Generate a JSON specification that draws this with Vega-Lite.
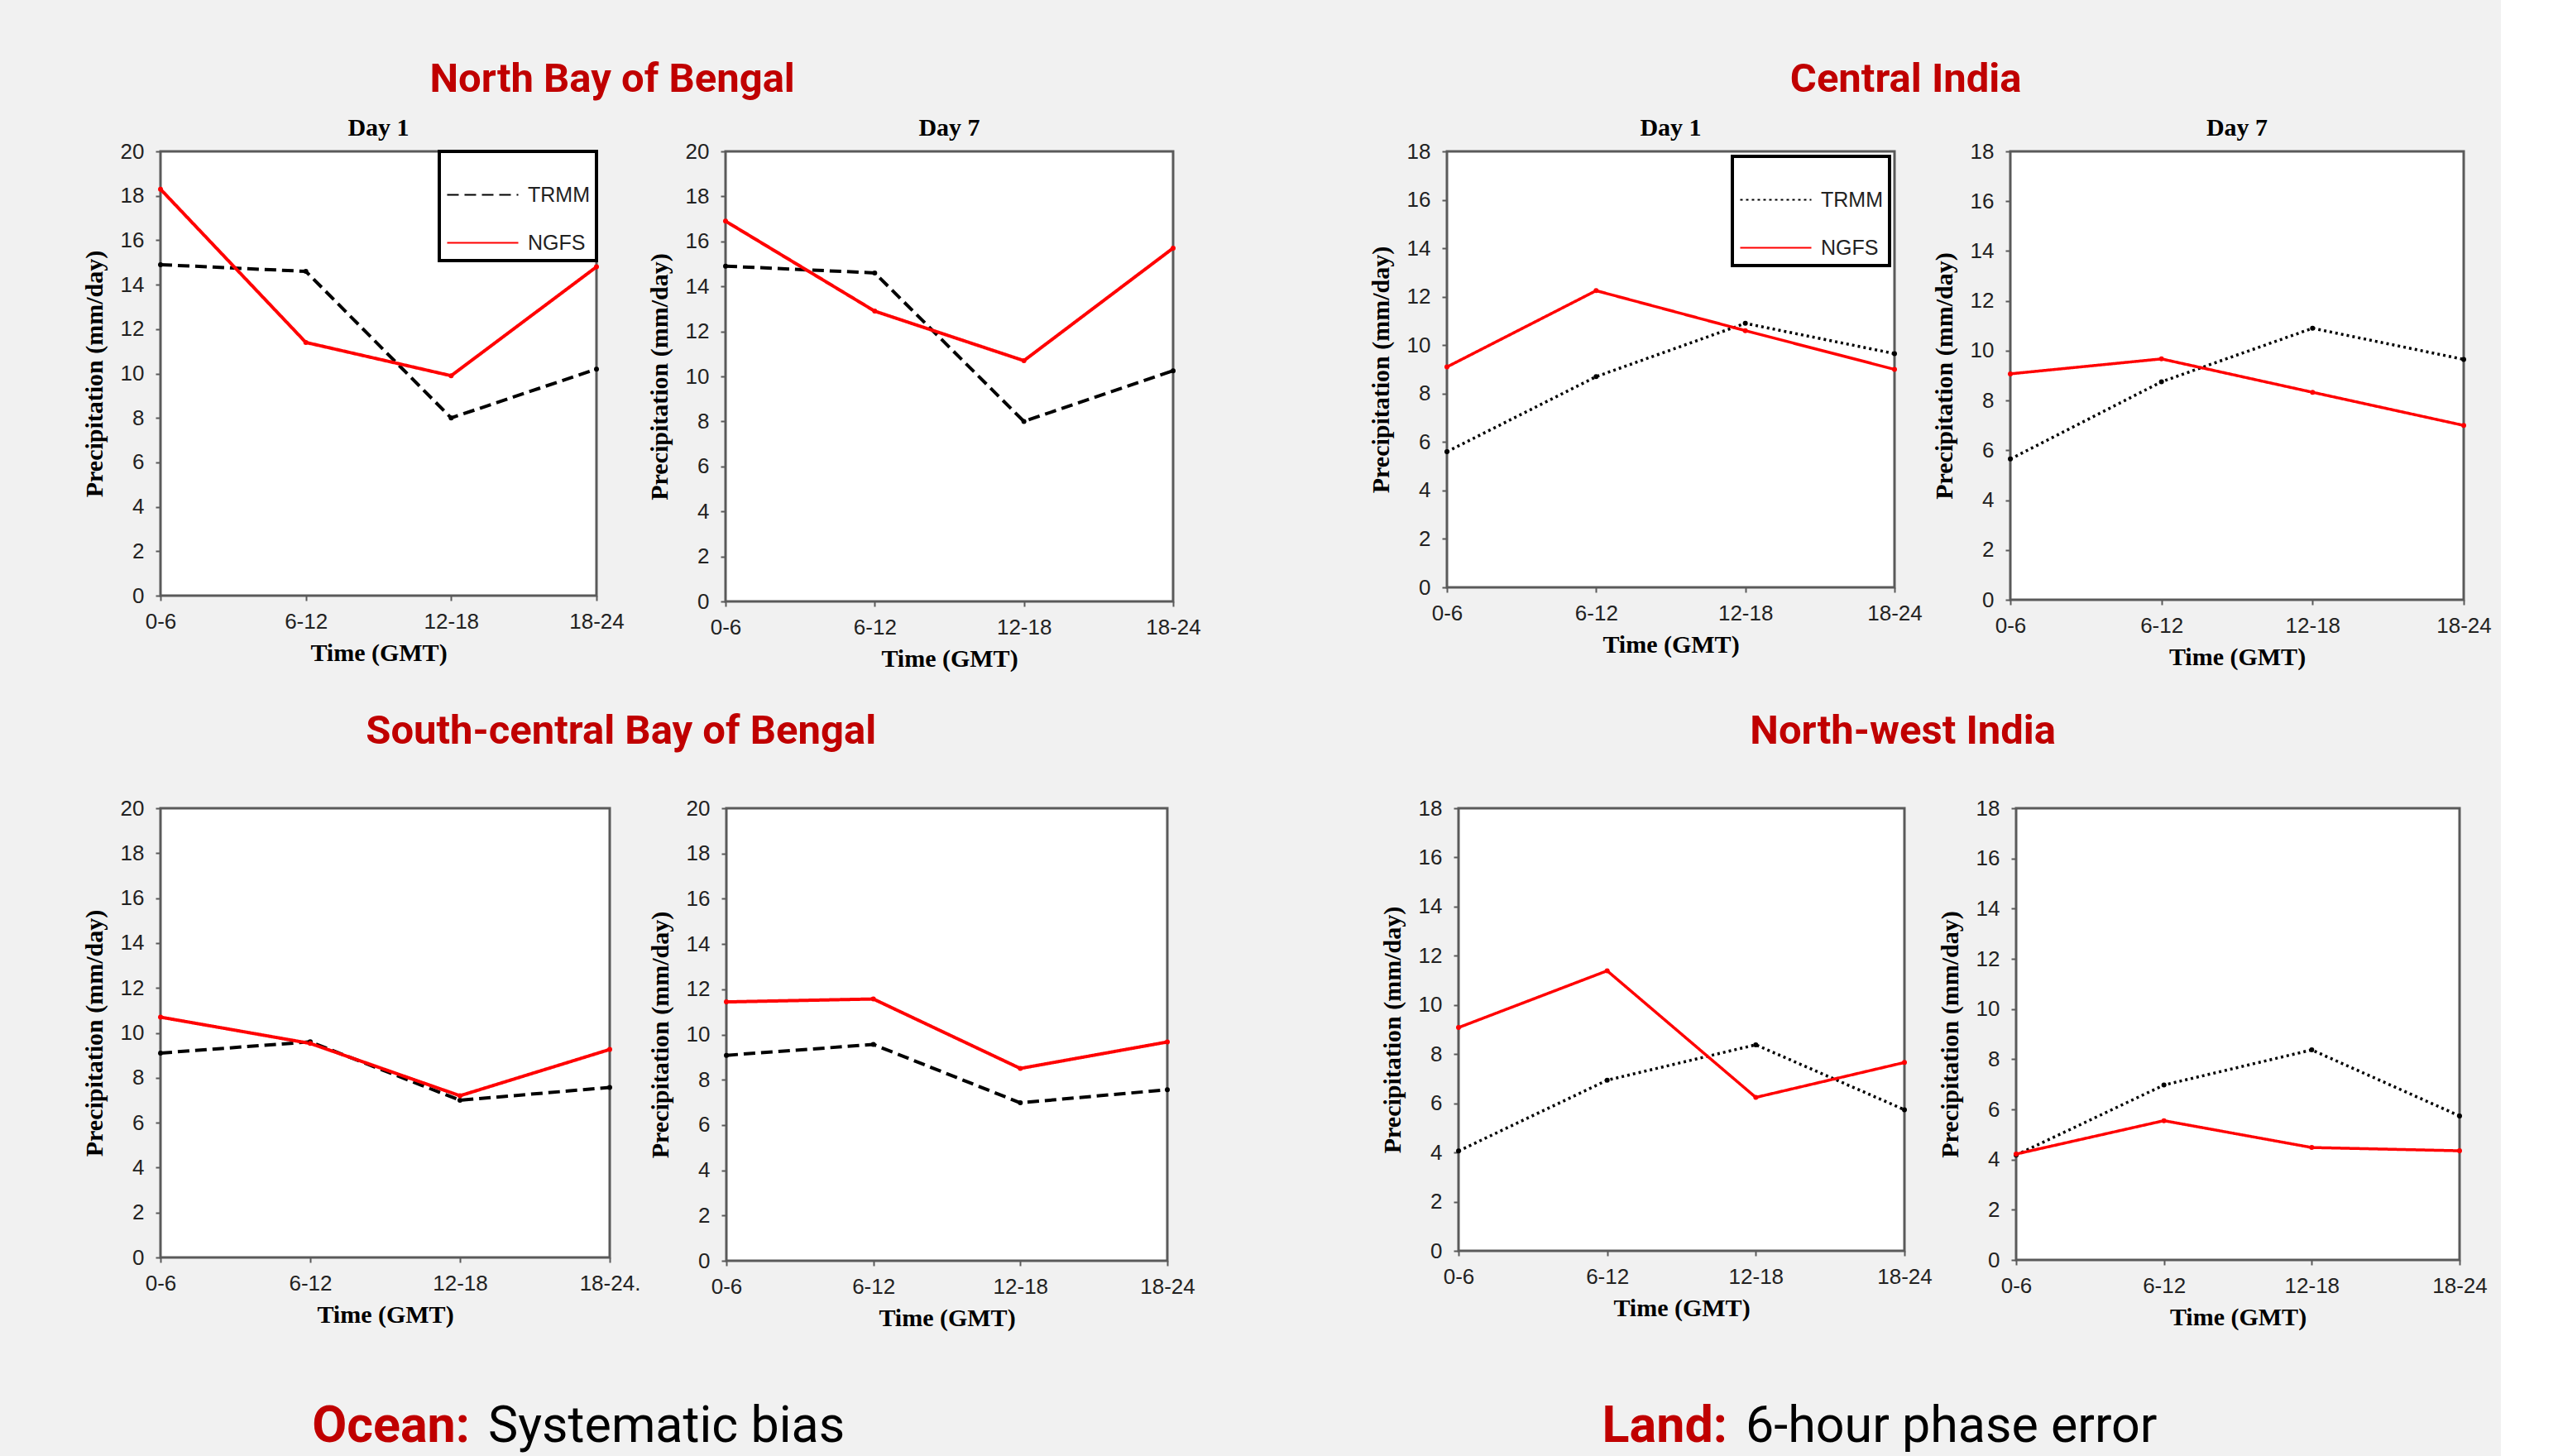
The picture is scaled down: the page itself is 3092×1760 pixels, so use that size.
{
  "$schema": "https://vega.github.io/schema/vega-lite/v6.json",
  "background": "#f1f1f1",
  "padding": {"left": 97, "top": 71, "right": 10, "bottom": 8},
  "config": {
    "view": {"fill": "white", "stroke": "#5a5a5a", "strokeWidth": 3},
    "axis": {"labelFont": "Liberation Sans", "labelFontSize": 26, "labelColor": "#222222", "titleFont": "Liberation Serif", "titleFontSize": 30, "titleFontWeight": "bold", "titleColor": "#000000", "grid": false, "domain": false, "tickColor": "#5a5a5a", "tickSize": 6, "tickWidth": 2},
    "axisY": {"labelPadding": 14, "titlePadding": 16},
    "axisX": {"labelPadding": 12, "titlePadding": 10, "labelAngle": 0},
    "title": {"font": "Liberation Serif", "fontSize": 30, "fontWeight": "bold", "color": "#000000", "anchor": "middle"},
    "legend": {"orient": "top-right", "offset": 0, "strokeColor": "#000000", "strokeWidth": 4, "fillColor": "#ffffff", "padding": 8, "rowPadding": 0, "symbolType": "stroke", "symbolSize": 7400, "symbolStrokeWidth": 2, "labelFont": "Liberation Sans", "labelFontSize": 25, "labelColor": "#222222", "labelOffset": 10}
  },
  "datasets": {
    "precip": [
      {"region": "North Bay of Bengal", "day": "Day 1", "source": "TRMM", "time": "0-6", "value": 14.9},
      {"region": "North Bay of Bengal", "day": "Day 1", "source": "TRMM", "time": "6-12", "value": 14.6},
      {"region": "North Bay of Bengal", "day": "Day 1", "source": "TRMM", "time": "12-18", "value": 8.0},
      {"region": "North Bay of Bengal", "day": "Day 1", "source": "TRMM", "time": "18-24", "value": 10.2},
      {"region": "North Bay of Bengal", "day": "Day 1", "source": "NGFS", "time": "0-6", "value": 18.3},
      {"region": "North Bay of Bengal", "day": "Day 1", "source": "NGFS", "time": "6-12", "value": 11.4},
      {"region": "North Bay of Bengal", "day": "Day 1", "source": "NGFS", "time": "12-18", "value": 9.9},
      {"region": "North Bay of Bengal", "day": "Day 1", "source": "NGFS", "time": "18-24", "value": 14.8},
      {"region": "North Bay of Bengal", "day": "Day 7", "source": "TRMM", "time": "0-6", "value": 14.9},
      {"region": "North Bay of Bengal", "day": "Day 7", "source": "TRMM", "time": "6-12", "value": 14.6},
      {"region": "North Bay of Bengal", "day": "Day 7", "source": "TRMM", "time": "12-18", "value": 8.0},
      {"region": "North Bay of Bengal", "day": "Day 7", "source": "TRMM", "time": "18-24", "value": 10.25},
      {"region": "North Bay of Bengal", "day": "Day 7", "source": "NGFS", "time": "0-6", "value": 16.9},
      {"region": "North Bay of Bengal", "day": "Day 7", "source": "NGFS", "time": "6-12", "value": 12.9},
      {"region": "North Bay of Bengal", "day": "Day 7", "source": "NGFS", "time": "12-18", "value": 10.7},
      {"region": "North Bay of Bengal", "day": "Day 7", "source": "NGFS", "time": "18-24", "value": 15.7},
      {"region": "Central India", "day": "Day 1", "source": "TRMM", "time": "0-6", "value": 5.6},
      {"region": "Central India", "day": "Day 1", "source": "TRMM", "time": "6-12", "value": 8.7},
      {"region": "Central India", "day": "Day 1", "source": "TRMM", "time": "12-18", "value": 10.9},
      {"region": "Central India", "day": "Day 1", "source": "TRMM", "time": "18-24", "value": 9.65},
      {"region": "Central India", "day": "Day 1", "source": "NGFS", "time": "0-6", "value": 9.1},
      {"region": "Central India", "day": "Day 1", "source": "NGFS", "time": "6-12", "value": 12.25},
      {"region": "Central India", "day": "Day 1", "source": "NGFS", "time": "12-18", "value": 10.6},
      {"region": "Central India", "day": "Day 1", "source": "NGFS", "time": "18-24", "value": 9.0},
      {"region": "Central India", "day": "Day 7", "source": "TRMM", "time": "0-6", "value": 5.65},
      {"region": "Central India", "day": "Day 7", "source": "TRMM", "time": "6-12", "value": 8.75},
      {"region": "Central India", "day": "Day 7", "source": "TRMM", "time": "12-18", "value": 10.9},
      {"region": "Central India", "day": "Day 7", "source": "TRMM", "time": "18-24", "value": 9.65},
      {"region": "Central India", "day": "Day 7", "source": "NGFS", "time": "0-6", "value": 9.07},
      {"region": "Central India", "day": "Day 7", "source": "NGFS", "time": "6-12", "value": 9.67},
      {"region": "Central India", "day": "Day 7", "source": "NGFS", "time": "12-18", "value": 8.33},
      {"region": "Central India", "day": "Day 7", "source": "NGFS", "time": "18-24", "value": 7.0},
      {"region": "South-central Bay of Bengal", "day": "Day 1", "source": "TRMM", "time": "0-6", "value": 9.1},
      {"region": "South-central Bay of Bengal", "day": "Day 1", "source": "TRMM", "time": "6-12", "value": 9.6},
      {"region": "South-central Bay of Bengal", "day": "Day 1", "source": "TRMM", "time": "12-18", "value": 7.0},
      {"region": "South-central Bay of Bengal", "day": "Day 1", "source": "TRMM", "time": "18-24", "value": 7.57},
      {"region": "South-central Bay of Bengal", "day": "Day 1", "source": "NGFS", "time": "0-6", "value": 10.7},
      {"region": "South-central Bay of Bengal", "day": "Day 1", "source": "NGFS", "time": "6-12", "value": 9.53},
      {"region": "South-central Bay of Bengal", "day": "Day 1", "source": "NGFS", "time": "12-18", "value": 7.2},
      {"region": "South-central Bay of Bengal", "day": "Day 1", "source": "NGFS", "time": "18-24", "value": 9.26},
      {"region": "South-central Bay of Bengal", "day": "Day 7", "source": "TRMM", "time": "0-6", "value": 9.08},
      {"region": "South-central Bay of Bengal", "day": "Day 7", "source": "TRMM", "time": "6-12", "value": 9.56},
      {"region": "South-central Bay of Bengal", "day": "Day 7", "source": "TRMM", "time": "12-18", "value": 6.98},
      {"region": "South-central Bay of Bengal", "day": "Day 7", "source": "TRMM", "time": "18-24", "value": 7.56},
      {"region": "South-central Bay of Bengal", "day": "Day 7", "source": "NGFS", "time": "0-6", "value": 11.44},
      {"region": "South-central Bay of Bengal", "day": "Day 7", "source": "NGFS", "time": "6-12", "value": 11.57},
      {"region": "South-central Bay of Bengal", "day": "Day 7", "source": "NGFS", "time": "12-18", "value": 8.5},
      {"region": "South-central Bay of Bengal", "day": "Day 7", "source": "NGFS", "time": "18-24", "value": 9.67},
      {"region": "North-west India", "day": "Day 1", "source": "TRMM", "time": "0-6", "value": 4.06},
      {"region": "North-west India", "day": "Day 1", "source": "TRMM", "time": "6-12", "value": 6.94},
      {"region": "North-west India", "day": "Day 1", "source": "TRMM", "time": "12-18", "value": 8.38},
      {"region": "North-west India", "day": "Day 1", "source": "TRMM", "time": "18-24", "value": 5.74},
      {"region": "North-west India", "day": "Day 1", "source": "NGFS", "time": "0-6", "value": 9.08},
      {"region": "North-west India", "day": "Day 1", "source": "NGFS", "time": "6-12", "value": 11.39},
      {"region": "North-west India", "day": "Day 1", "source": "NGFS", "time": "12-18", "value": 6.24},
      {"region": "North-west India", "day": "Day 1", "source": "NGFS", "time": "18-24", "value": 7.66},
      {"region": "North-west India", "day": "Day 7", "source": "TRMM", "time": "0-6", "value": 4.18},
      {"region": "North-west India", "day": "Day 7", "source": "TRMM", "time": "6-12", "value": 6.97},
      {"region": "North-west India", "day": "Day 7", "source": "TRMM", "time": "12-18", "value": 8.37},
      {"region": "North-west India", "day": "Day 7", "source": "TRMM", "time": "18-24", "value": 5.74},
      {"region": "North-west India", "day": "Day 7", "source": "NGFS", "time": "0-6", "value": 4.22},
      {"region": "North-west India", "day": "Day 7", "source": "NGFS", "time": "6-12", "value": 5.55},
      {"region": "North-west India", "day": "Day 7", "source": "NGFS", "time": "12-18", "value": 4.48},
      {"region": "North-west India", "day": "Day 7", "source": "NGFS", "time": "18-24", "value": 4.35}
    ]
  },
  "data": {"name": "precip"},
  "resolve": {"scale": {"color": "independent", "strokeDash": "independent"}, "legend": {"color": "independent", "strokeDash": "independent"}},
  "spacing": 84,
  "vconcat": [
    {
      "spacing": 46,
      "resolve": {"scale": {"color": "independent", "strokeDash": "independent"}, "legend": {"color": "independent", "strokeDash": "independent"}},
      "vconcat": [
        {
          "spacing": 199,
          "resolve": {"scale": {"color": "independent", "strokeDash": "independent"}, "legend": {"color": "independent", "strokeDash": "independent"}},
          "hconcat": [
            {
              "title": {"text": "North Bay of Bengal", "font": "Roboto", "fontSize": 49, "fontWeight": "bold", "color": "#c00000", "anchor": "middle", "offset": 18, "dx": -35},
              "spacing": 24,
              "resolve": {"scale": {"color": "independent", "strokeDash": "independent"}, "legend": {"color": "independent", "strokeDash": "independent"}},
              "hconcat": [
                {
                  "width": 527, "height": 537,
                  "title": {"text": "Day 1", "offset": 0},
                  "transform": [{"filter": "datum.region === 'North Bay of Bengal' && datum.day === 'Day 1'"}],
                  "mark": {"type": "line", "strokeWidth": 4, "point": {"filled": true, "size": 36}},
                  "encoding": {
                    "x": {"field": "time", "type": "ordinal", "title": "Time (GMT)", "scale": {"type": "point", "padding": 0, "domain": ["0-6", "6-12", "12-18", "18-24"]}},
                    "y": {"field": "value", "type": "quantitative", "title": "Precipitation (mm/day)", "scale": {"domain": [0, 20], "nice": false}, "axis": {"values": [0, 2, 4, 6, 8, 10, 12, 14, 16, 18, 20]}},
                    "color": {"field": "source", "type": "nominal", "scale": {"domain": ["TRMM", "NGFS"], "range": ["#000000", "#ff0000"]}, "legend": {"title": null}},
                    "strokeDash": {"field": "source", "type": "nominal", "scale": {"domain": ["TRMM", "NGFS"], "range": [[14, 7], [1, 0]]}, "legend": {"title": null}}
                  }
                },
                {
                  "width": 541, "height": 544,
                  "title": {"text": "Day 7", "offset": 0},
                  "transform": [{"filter": "datum.region === 'North Bay of Bengal' && datum.day === 'Day 7'"}],
                  "mark": {"type": "line", "strokeWidth": 4, "point": {"filled": true, "size": 36}},
                  "encoding": {
                    "x": {"field": "time", "type": "ordinal", "title": "Time (GMT)", "scale": {"type": "point", "padding": 0, "domain": ["0-6", "6-12", "12-18", "18-24"]}},
                    "y": {"field": "value", "type": "quantitative", "title": "Precipitation (mm/day)", "scale": {"domain": [0, 20], "nice": false}, "axis": {"values": [0, 2, 4, 6, 8, 10, 12, 14, 16, 18, 20]}},
                    "color": {"field": "source", "type": "nominal", "scale": {"domain": ["TRMM", "NGFS"], "range": ["#000000", "#ff0000"]}, "legend": null},
                    "strokeDash": {"field": "source", "type": "nominal", "scale": {"domain": ["TRMM", "NGFS"], "range": [[14, 7], [1, 0]]}, "legend": null}
                  }
                }
              ]
            },
            {
              "title": {"text": "Central India", "font": "Roboto", "fontSize": 49, "fontWeight": "bold", "color": "#c00000", "anchor": "middle", "offset": 18, "dx": -29},
              "spacing": 8,
              "resolve": {"scale": {"color": "independent", "strokeDash": "independent"}, "legend": {"color": "independent", "strokeDash": "independent"}},
              "hconcat": [
                {
                  "width": 541, "height": 527,
                  "title": {"text": "Day 1", "offset": 0},
                  "transform": [{"filter": "datum.region === 'Central India' && datum.day === 'Day 1'"}],
                  "mark": {"type": "line", "strokeWidth": 3.5, "point": {"filled": true, "size": 36}},
                  "encoding": {
                    "x": {"field": "time", "type": "ordinal", "title": "Time (GMT)", "scale": {"type": "point", "padding": 0, "domain": ["0-6", "6-12", "12-18", "18-24"]}},
                    "y": {"field": "value", "type": "quantitative", "title": "Precipitation (mm/day)", "scale": {"domain": [0, 18], "nice": false}, "axis": {"values": [0, 2, 4, 6, 8, 10, 12, 14, 16, 18]}},
                    "color": {"field": "source", "type": "nominal", "scale": {"domain": ["TRMM", "NGFS"], "range": ["#000000", "#ff0000"]}, "legend": {"title": null, "offset": 6}},
                    "strokeDash": {"field": "source", "type": "nominal", "scale": {"domain": ["TRMM", "NGFS"], "range": [[3, 4], [1, 0]]}, "legend": {"title": null, "offset": 6}}
                  }
                },
                {
                  "width": 548, "height": 542,
                  "title": {"text": "Day 7", "offset": 0},
                  "transform": [{"filter": "datum.region === 'Central India' && datum.day === 'Day 7'"}],
                  "mark": {"type": "line", "strokeWidth": 3.5, "point": {"filled": true, "size": 36}},
                  "encoding": {
                    "x": {"field": "time", "type": "ordinal", "title": "Time (GMT)", "scale": {"type": "point", "padding": 0, "domain": ["0-6", "6-12", "12-18", "18-24"]}},
                    "y": {"field": "value", "type": "quantitative", "title": "Precipitation (mm/day)", "scale": {"domain": [0, 18], "nice": false}, "axis": {"values": [0, 2, 4, 6, 8, 10, 12, 14, 16, 18]}},
                    "color": {"field": "source", "type": "nominal", "scale": {"domain": ["TRMM", "NGFS"], "range": ["#000000", "#ff0000"]}, "legend": null},
                    "strokeDash": {"field": "source", "type": "nominal", "scale": {"domain": ["TRMM", "NGFS"], "range": [[3, 4], [1, 0]]}, "legend": null}
                  }
                }
              ]
            }
          ]
        },
        {
          "spacing": 220,
          "resolve": {"scale": {"color": "independent", "strokeDash": "independent"}, "legend": {"color": "independent", "strokeDash": "independent"}},
          "hconcat": [
            {
              "title": {"text": "South-central Bay of Bengal", "font": "Roboto", "fontSize": 49, "fontWeight": "bold", "color": "#c00000", "anchor": "middle", "offset": 54, "dx": -21},
              "spacing": 5,
              "resolve": {"scale": {"color": "independent", "strokeDash": "independent"}, "legend": {"color": "independent", "strokeDash": "independent"}},
              "hconcat": [
                {
                  "width": 543, "height": 543,
                  "transform": [{"filter": "datum.region === 'South-central Bay of Bengal' && datum.day === 'Day 1'"}],
                  "mark": {"type": "line", "strokeWidth": 4, "point": {"filled": true, "size": 36}},
                  "encoding": {
                    "x": {"field": "time", "type": "ordinal", "title": "Time (GMT)", "scale": {"type": "point", "padding": 0, "domain": ["0-6", "6-12", "12-18", "18-24"]}, "axis": {"labelExpr": "datum.value === '18-24' ? '18-24.' : datum.value"}},
                    "y": {"field": "value", "type": "quantitative", "title": "Precipitation (mm/day)", "scale": {"domain": [0, 20], "nice": false}, "axis": {"values": [0, 2, 4, 6, 8, 10, 12, 14, 16, 18, 20]}},
                    "color": {"field": "source", "type": "nominal", "scale": {"domain": ["TRMM", "NGFS"], "range": ["#000000", "#ff0000"]}, "legend": null},
                    "strokeDash": {"field": "source", "type": "nominal", "scale": {"domain": ["TRMM", "NGFS"], "range": [[14, 7], [1, 0]]}, "legend": null}
                  }
                },
                {
                  "width": 533, "height": 547,
                  "transform": [{"filter": "datum.region === 'South-central Bay of Bengal' && datum.day === 'Day 7'"}],
                  "mark": {"type": "line", "strokeWidth": 4, "point": {"filled": true, "size": 36}},
                  "encoding": {
                    "x": {"field": "time", "type": "ordinal", "title": "Time (GMT)", "scale": {"type": "point", "padding": 0, "domain": ["0-6", "6-12", "12-18", "18-24"]}},
                    "y": {"field": "value", "type": "quantitative", "title": "Precipitation (mm/day)", "scale": {"domain": [0, 20], "nice": false}, "axis": {"values": [0, 2, 4, 6, 8, 10, 12, 14, 16, 18, 20]}},
                    "color": {"field": "source", "type": "nominal", "scale": {"domain": ["TRMM", "NGFS"], "range": ["#000000", "#ff0000"]}, "legend": null},
                    "strokeDash": {"field": "source", "type": "nominal", "scale": {"domain": ["TRMM", "NGFS"], "range": [[14, 7], [1, 0]]}, "legend": null}
                  }
                }
              ]
            },
            {
              "title": {"text": "North-west India", "font": "Roboto", "fontSize": 49, "fontWeight": "bold", "color": "#c00000", "anchor": "middle", "offset": 54, "dx": -37},
              "spacing": 3,
              "resolve": {"scale": {"color": "independent", "strokeDash": "independent"}, "legend": {"color": "independent", "strokeDash": "independent"}},
              "hconcat": [
                {
                  "width": 539, "height": 535,
                  "transform": [{"filter": "datum.region === 'North-west India' && datum.day === 'Day 1'"}],
                  "mark": {"type": "line", "strokeWidth": 3.5, "point": {"filled": true, "size": 36}},
                  "encoding": {
                    "x": {"field": "time", "type": "ordinal", "title": "Time (GMT)", "scale": {"type": "point", "padding": 0, "domain": ["0-6", "6-12", "12-18", "18-24"]}},
                    "y": {"field": "value", "type": "quantitative", "title": "Precipitation (mm/day)", "scale": {"domain": [0, 18], "nice": false}, "axis": {"values": [0, 2, 4, 6, 8, 10, 12, 14, 16, 18]}},
                    "color": {"field": "source", "type": "nominal", "scale": {"domain": ["TRMM", "NGFS"], "range": ["#000000", "#ff0000"]}, "legend": null},
                    "strokeDash": {"field": "source", "type": "nominal", "scale": {"domain": ["TRMM", "NGFS"], "range": [[3, 4], [1, 0]]}, "legend": null}
                  }
                },
                {
                  "width": 536, "height": 546,
                  "transform": [{"filter": "datum.region === 'North-west India' && datum.day === 'Day 7'"}],
                  "mark": {"type": "line", "strokeWidth": 3.5, "point": {"filled": true, "size": 36}},
                  "encoding": {
                    "x": {"field": "time", "type": "ordinal", "title": "Time (GMT)", "scale": {"type": "point", "padding": 0, "domain": ["0-6", "6-12", "12-18", "18-24"]}},
                    "y": {"field": "value", "type": "quantitative", "title": "Precipitation (mm/day)", "scale": {"domain": [0, 18], "nice": false}, "axis": {"values": [0, 2, 4, 6, 8, 10, 12, 14, 16, 18]}},
                    "color": {"field": "source", "type": "nominal", "scale": {"domain": ["TRMM", "NGFS"], "range": ["#000000", "#ff0000"]}, "legend": null},
                    "strokeDash": {"field": "source", "type": "nominal", "scale": {"domain": ["TRMM", "NGFS"], "range": [[3, 4], [1, 0]]}, "legend": null}
                  }
                }
              ]
            }
          ]
        }
      ]
    },
    {
      "width": 2290, "height": 56,
      "view": {"stroke": null, "fill": null},
      "data": {"values": [
        {"region": "Ocean", "label": "Ocean:", "note": "Systematic bias"},
        {"region": "Land", "label": "Land:", "note": "6-hour phase error"}
      ]},
      "encoding": {"x": {"field": "region", "type": "nominal", "sort": ["Ocean", "Land"], "scale": {"type": "point", "padding": 0.2533}, "axis": null}},
      "layer": [
        {"mark": {"type": "text", "align": "right", "baseline": "middle", "dx": -11, "font": "Roboto", "fontSize": 61, "fontWeight": "bold", "color": "#c00000"}, "encoding": {"text": {"field": "label"}}},
        {"mark": {"type": "text", "align": "left", "baseline": "middle", "dx": 11, "font": "Roboto", "fontSize": 61, "color": "#000000"}, "encoding": {"text": {"field": "note"}}}
      ]
    }
  ]
}
